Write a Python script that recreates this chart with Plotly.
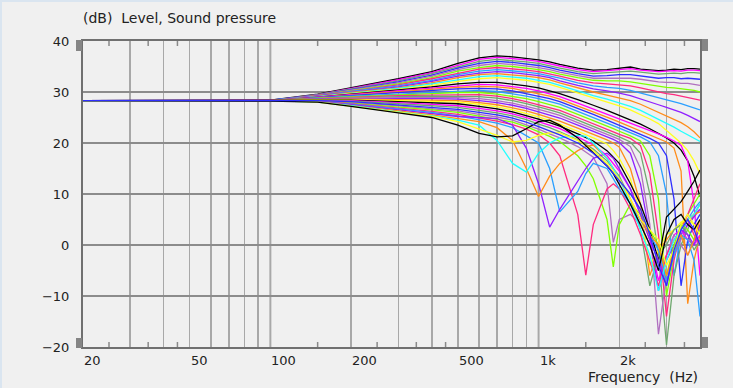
import math
import plotly.graph_objects as go

# ---------------- data ----------------
FREQ = [20, 100, 150, 200, 300, 400, 500, 600, 700, 800, 900, 1000, 1100, 1200, 1400, 1500,
        1600, 1800, 1900, 2000, 2200, 2400, 2600, 2800, 3000, 3200, 3400, 3600, 3800, 4000]

SPL_00 = [28.3, 28.4, 29.6, 30.8, 32.6, 34.0, 35.6, 36.7, 37.1, 36.9, 36.6, 36.3, 35.9, 35.4, 34.7, 34.5, 34.3, 34.4, 34.5, 34.6, 34.9, 34.5, 34.3, 34.2, 34.3, 34.5, 34.4, 34.6, 34.6, 34.5]
SPL_01 = [28.3, 28.3, 29.5, 30.7, 32.4, 33.8, 35.3, 36.4, 36.8, 36.6, 36.3, 36.0, 35.6, 35.1, 34.4, 34.2, 34.0, 34.2, 34.3, 34.4, 34.6, 34.3, 34.1, 34.0, 34.1, 34.2, 34.1, 34.3, 34.3, 34.2]
SPL_02 = [28.2, 28.3, 29.5, 30.6, 32.2, 33.6, 35.0, 36.0, 36.4, 36.2, 35.9, 35.6, 35.2, 34.7, 34.0, 33.8, 33.6, 33.8, 33.9, 34.0, 34.1, 33.9, 33.7, 33.5, 33.6, 33.7, 33.6, 33.8, 33.8, 33.7]
SPL_03 = [28.3, 28.4, 29.4, 30.5, 32.0, 33.3, 34.7, 35.6, 36.0, 35.8, 35.5, 35.2, 34.8, 34.3, 33.6, 33.3, 33.1, 33.2, 33.3, 33.4, 33.4, 33.2, 32.9, 32.7, 32.8, 32.8, 32.6, 32.7, 32.6, 32.5]
SPL_04 = [28.3, 28.2, 29.4, 30.4, 31.8, 33.1, 34.4, 35.2, 35.6, 35.4, 35.1, 34.8, 34.4, 33.9, 33.2, 32.9, 32.7, 32.7, 32.7, 32.8, 32.7, 32.5, 32.2, 32.0, 31.9, 31.9, 31.7, 31.7, 31.5, 31.3]
SPL_05 = [28.3, 28.3, 29.3, 30.3, 31.6, 32.8, 34.1, 34.8, 35.2, 35.0, 34.7, 34.4, 34.0, 33.5, 32.8, 32.5, 32.3, 32.2, 32.2, 32.2, 32.0, 31.7, 31.4, 31.1, 30.9, 30.8, 30.6, 30.5, 30.3, 30.0]
SPL_06 = [28.3, 28.3, 29.3, 30.2, 31.4, 32.6, 33.7, 34.5, 34.8, 34.6, 34.3, 34.0, 33.6, 33.1, 32.3, 32.0, 31.8, 31.6, 31.5, 31.5, 31.2, 30.8, 30.4, 30.0, 29.7, 29.5, 29.2, 29.0, 28.7, 28.4]
SPL_07 = [28.3, 28.4, 29.2, 30.1, 31.2, 32.3, 33.4, 34.1, 34.4, 34.2, 33.9, 33.6, 33.2, 32.7, 31.8, 31.5, 31.2, 30.9, 30.8, 30.7, 30.3, 29.8, 29.3, 28.8, 28.4, 28.1, 27.7, 27.3, 26.9, 26.5]
SPL_08 = [28.3, 28.3, 29.2, 30.0, 31.0, 32.1, 33.1, 33.7, 34.0, 33.8, 33.5, 33.2, 32.8, 32.2, 31.3, 30.9, 30.6, 30.2, 30.0, 29.8, 29.3, 28.7, 28.1, 27.5, 27.0, 26.5, 26.0, 25.4, 24.8, 24.2]
SPL_09 = [28.3, 28.3, 29.1, 29.9, 30.8, 31.8, 32.8, 33.4, 33.6, 33.4, 33.1, 32.8, 32.4, 31.8, 30.8, 30.4, 30.0, 29.4, 29.1, 28.9, 28.3, 27.6, 26.8, 26.1, 25.4, 24.7, 24.0, 23.2, 22.2, 21.0]
SPL_10 = [28.2, 28.3, 29.1, 29.8, 30.7, 31.6, 32.4, 33.0, 33.2, 33.0, 32.7, 32.3, 31.9, 31.3, 30.2, 29.7, 29.3, 28.6, 28.2, 27.9, 27.2, 26.4, 25.5, 24.7, 23.9, 23.1, 22.3, 21.6, 20.9, 20.3]
SPL_11 = [28.3, 28.3, 29.0, 29.7, 30.5, 31.3, 32.1, 32.6, 32.8, 32.6, 32.3, 31.9, 31.5, 30.9, 29.8, 29.3, 28.9, 28.1, 27.7, 27.3, 26.5, 25.6, 24.7, 23.8, 22.5, 21.3, 20.0, 18.5, 16.5, 14.0]
SPL_12 = [28.3, 28.3, 29.0, 29.6, 30.3, 31.0, 31.6, 31.9, 31.9, 31.6, 31.2, 30.8, 30.3, 29.7, 28.5, 28.0, 27.4, 26.4, 25.9, 25.5, 24.6, 23.7, 22.8, 21.9, 21.0, 20.0, 18.6, 16.5, 13.5, 9.5]
SPL_13 = [28.3, 28.3, 29.0, 29.5, 30.2, 30.8, 31.2, 31.5, 31.4, 31.1, 30.7, 30.2, 29.7, 29.1, 27.8, 27.2, 26.7, 25.7, 25.2, 24.8, 23.9, 23.1, 22.4, 21.8, 21.1, 20.4, 19.5, 16.5, 8.0, -6.0]
SPL_14 = [28.2, 28.3, 28.9, 29.4, 30.0, 30.5, 30.9, 31.1, 31.0, 30.7, 30.2, 29.7, 29.2, 28.6, 27.3, 26.7, 26.2, 25.1, 24.6, 24.1, 23.2, 22.3, 21.5, 20.8, 20.2, 19.0, 14.5, -11.5, -3.0, 2.0]
SPL_15 = [28.3, 28.3, 28.9, 29.3, 29.8, 30.2, 30.6, 30.7, 30.6, 30.2, 29.7, 29.2, 28.7, 28.1, 26.8, 26.2, 25.6, 24.5, 24.0, 23.5, 22.6, 21.7, 20.9, 20.0, 17.5, 9.0, -8.0, 1.0, 4.0, 6.0]
SPL_16 = [28.3, 28.3, 28.8, 29.2, 29.6, 29.9, 30.2, 30.3, 30.1, 29.7, 29.2, 28.7, 28.2, 27.6, 26.2, 25.6, 25.0, 23.9, 23.4, 22.9, 22.0, 21.2, 20.2, 17.5, 10.0, -6.0, 2.0, 5.0, 7.0, 8.5]
SPL_17 = [28.3, 28.3, 28.8, 29.1, 29.5, 29.7, 29.9, 29.9, 29.6, 29.2, 28.7, 28.1, 27.6, 27.0, 25.6, 25.0, 24.4, 23.3, 22.8, 22.3, 21.4, 20.4, 17.5, 9.0, -10.0, -2.0, 4.0, 6.0, 8.0, 10.0]
SPL_18 = [28.3, 28.4, 28.7, 29.0, 29.3, 29.4, 29.5, 29.5, 29.2, 28.7, 28.1, 27.5, 27.0, 26.4, 25.0, 24.4, 23.8, 22.7, 22.2, 21.7, 20.9, 19.5, 14.0, 2.0, -14.0, -3.0, 3.0, 6.0, 9.0, 12.0]
SPL_19 = [28.3, 28.3, 28.7, 28.9, 29.1, 29.2, 29.2, 29.1, 28.8, 28.3, 27.7, 27.1, 26.5, 25.9, 24.5, 23.9, 23.3, 22.2, 21.7, 21.2, 20.2, 18.0, 10.0, -2.0, -19.6, -6.0, 0.0, 3.0, 6.0, 8.0]
SPL_20 = [28.3, 28.3, 28.6, 28.8, 28.9, 28.9, 28.9, 28.7, 28.3, 27.8, 27.2, 26.6, 26.0, 25.4, 24.0, 23.4, 22.8, 21.7, 21.2, 20.7, 19.3, 15.0, 4.0, -17.5, -6.0, -2.0, 1.0, 4.0, 6.0, 7.0]
SPL_21 = [28.2, 28.3, 28.6, 28.7, 28.7, 28.7, 28.6, 28.3, 27.9, 27.4, 26.8, 26.1, 25.5, 24.9, 23.5, 22.9, 22.3, 21.2, 20.7, 20.1, 18.0, 12.0, 2.0, -9.0, -3.0, 0.0, 2.0, 4.0, 5.5, 7.0]
SPL_22 = [28.3, 28.3, 28.5, 28.6, 28.5, 28.4, 28.3, 27.9, 27.5, 26.9, 26.3, 25.6, 25.0, 24.3, 22.9, 22.3, 21.7, 20.6, 20.0, 19.2, 15.0, 8.0, -6.0, -1.0, 1.0, 3.0, 4.0, 5.0, 6.0, 6.5]
SPL_23 = [28.3, 28.3, 28.5, 28.5, 28.3, 28.2, 28.0, 27.6, 27.1, 26.5, 25.8, 25.1, 24.4, 23.7, 22.3, 21.7, 21.0, 19.8, 18.5, 17.0, 13.0, 6.0, -4.0, -1.0, 2.0, 3.0, 4.5, 5.0, 4.0, 3.0]
SPL_24 = [28.3, 28.3, 28.4, 28.4, 28.1, 27.9, 27.7, 27.2, 26.7, 26.1, 25.4, 24.7, 24.0, 23.3, 21.8, 21.1, 20.4, 18.5, 17.3, 16.0, 12.0, 8.0, 3.0, -3.0, 5.5, 7.0, 8.5, 10.5, 12.5, 14.7]
SPL_25 = [28.3, 28.3, 28.4, 28.3, 27.9, 27.6, 27.3, 26.8, 26.3, 25.7, 25.0, 24.2, 23.5, 22.8, 21.2, 20.4, 19.6, 17.5, 16.0, 14.5, 11.0, 6.0, 1.0, -7.0, -2.0, 2.0, 3.0, 1.0, 0.0, 2.0]
SPL_26 = [28.3, 28.3, 28.3, 28.2, 27.7, 27.3, 27.0, 26.4, 25.9, 25.3, 24.6, 23.7, 23.0, 22.2, 20.6, 19.7, 18.8, 16.5, 15.0, 13.5, 9.0, 3.0, -8.0, -2.0, 0.0, 3.0, 4.0, 2.0, -1.0, 1.0]
SPL_27 = [28.3, 28.3, 28.3, 28.1, 27.5, 27.0, 26.6, 26.0, 25.5, 24.9, 24.1, 23.2, 22.4, 21.6, 20.0, 19.0, 18.0, 15.5, 14.0, 12.5, 10.0, 7.0, 2.0, -4.0, -8.0, -1.0, 3.0, 5.0, 3.0, 0.0]
SPL_28 = [28.3, 28.3, 28.2, 27.9, 27.3, 26.7, 26.3, 25.6, 25.1, 24.5, 23.6, 22.7, 21.8, 21.0, 19.3, 18.2, 17.2, 12.0, 0.5, 5.0, 6.0, 4.0, 0.0, -5.0, -2.0, 2.0, 0.0, -2.0, 1.0, 4.0]
SPL_29 = [28.2, 28.3, 28.2, 27.8, 27.1, 26.5, 26.0, 25.3, 24.7, 24.1, 23.2, 22.2, 21.3, 20.3, 17.5, 15.5, 13.0, 5.0, -4.3, 4.0, 8.0, 6.0, 3.0, 0.0, -6.0, 0.0, 4.0, 3.0, 1.0, 3.0]
SPL_30 = [28.3, 28.3, 28.2, 27.7, 26.9, 26.2, 25.6, 24.9, 24.3, 23.6, 22.7, 21.6, 20.0, 17.5, 6.0, -5.9, 4.0, 11.0, 12.0, 11.0, 7.0, 2.0, -3.0, -8.0, -2.0, 1.0, 3.0, 5.0, 2.0, 0.0]
SPL_31 = [28.3, 28.3, 28.1, 27.6, 26.7, 26.0, 25.3, 24.6, 23.9, 23.0, 21.5, 20.0, 15.0, 6.5, 10.5, 14.0, 16.0, 15.0, 13.0, 11.0, 8.0, 5.0, 2.0, -1.0, -7.0, -2.0, 2.0, 1.0, -3.0, -14.0]
SPL_32 = [28.3, 28.3, 28.1, 27.5, 26.5, 25.7, 25.2, 25.0, 24.8, 23.5, 19.0, 12.0, 3.5, 7.0, 12.5, 15.0, 17.0, 18.0, 17.0, 15.0, 11.0, 6.0, 1.0, -3.0, -8.0, -1.0, 3.0, 2.0, 0.0, 4.0]
SPL_33 = [28.3, 28.3, 28.1, 27.4, 26.3, 25.5, 24.8, 24.2, 23.0, 20.5, 15.0, 9.5, 13.5, 16.0, 18.5, 19.3, 19.6, 17.0, 15.0, 13.0, 9.0, 5.0, 2.0, 0.0, -6.0, -1.0, 2.0, -2.0, 1.0, 5.0]
SPL_34 = [28.3, 28.3, 28.0, 27.3, 26.1, 25.3, 24.5, 23.5, 20.5, 16.0, 14.3, 18.0, 20.0, 21.0, 21.5, 21.3, 20.0, 17.0, 15.0, 13.0, 8.0, 3.0, -2.0, -9.0, -3.0, 1.0, 3.0, 5.0, 6.0, 8.0]
SPL_35 = [28.3, 28.3, 28.0, 27.2, 26.0, 25.2, 24.2, 22.8, 21.5, 20.2, 20.5, 21.5, 22.0, 22.0, 20.5, 19.5, 18.5, 16.0, 14.5, 13.0, 9.0, 5.0, 3.0, 1.0, -4.0, -1.0, 4.0, 6.0, 4.0, 2.0]
SPL_36 = [28.3, 28.2, 28.0, 27.2, 25.9, 25.0, 23.5, 21.9, 21.2, 21.4, 22.8, 24.2, 24.5, 23.5, 21.0, 19.5, 18.0, 15.5, 14.0, 12.0, 8.0, 4.0, 0.0, -5.0, 2.0, 5.0, 6.0, 4.0, 3.0, 5.0]

CURVES = [SPL_00, SPL_01, SPL_02, SPL_03, SPL_04, SPL_05, SPL_06, SPL_07, SPL_08, SPL_09,
          SPL_10, SPL_11, SPL_12, SPL_13, SPL_14, SPL_15, SPL_16, SPL_17, SPL_18, SPL_19,
          SPL_20, SPL_21, SPL_22, SPL_23, SPL_24, SPL_25, SPL_26, SPL_27, SPL_28, SPL_29,
          SPL_30, SPL_31, SPL_32, SPL_33, SPL_34, SPL_35, SPL_36]

# ---------------- styles ----------------
BLACK, MAGENTA, GREYGREEN, BLUE = "#000000", "#ff00ff", "#6fa86f", "#2f2fff"
MAUVE, LIME, PINK, LIGHTBLUE = "#b070c0", "#80ff00", "#ff2a7f", "#2a9fff"
PURPLE, ORANGE, CYAN, YELLOW = "#9020ff", "#ff8c1a", "#20ffff", "#ffff20"
COLORS = [BLACK, MAGENTA, GREYGREEN, BLUE, MAUVE, LIME, PINK, LIGHTBLUE, PURPLE, ORANGE, CYAN, YELLOW,
          BLACK, MAGENTA, ORANGE, BLUE, LIGHTBLUE, LIME, PINK, GREYGREEN, MAUVE, PURPLE, ORANGE, YELLOW,
          BLACK, MAGENTA, GREYGREEN, BLUE, MAUVE, LIME, PINK, LIGHTBLUE, PURPLE, ORANGE, CYAN, YELLOW,
          BLACK]

X_LABEL_VALUES = [20, 50, 100, 200, 500, 1000, 2000]
X_LABEL_TEXT = ["20", "50", "100", "200", "500", "1k", "2k"]
X_GRID = [30, 40, 50, 60, 70, 80, 90, 100, 200, 300, 400, 500, 600, 700, 800, 900, 1000, 2000, 3000]
X_DECADES = [100, 1000]
X_MINOR = [25, 35, 45, 150, 250, 350, 450, 1500, 2500, 3500]
Y_TICKS = [-20, -10, 0, 10, 20, 30, 40]

# ---------------- layout geometry (pixels) ----------------
W, H = 733, 388
L, R, T, B = 83, 700, 41, 347


def pxx(px):
    return (px - L) / (R - L)


def pxy(py):
    return (B - py) / (B - T)


FONT = "DejaVu Sans, Verdana, sans-serif"
TXT = "#222222"

fig = go.Figure()

order = [i for i in range(len(CURVES)) if i != 27] + [27]
for i in order:
    fig.add_trace(go.Scatter(
        x=FREQ, y=CURVES[i], mode="lines",
        line=dict(color=COLORS[i], width=1.3),
        hoverinfo="skip", showlegend=False))

shapes = []
for f in X_DECADES:
    shapes.append(dict(type="line", xref="x", yref="paper", x0=f, x1=f, y0=0, y1=1,
                       line=dict(color="#7c7c7c", width=1.6), layer="below"))
for f in X_MINOR:
    shapes.append(dict(type="line", xref="x", yref="paper", x0=f, x1=f, y0=0, y1=pxy(B - 5),
                       line=dict(color="#8a8a8a", width=1.5)))
    shapes.append(dict(type="line", xref="x", yref="paper", x0=f, x1=f, y0=pxy(T + 5), y1=1,
                       line=dict(color="#8a8a8a", width=1.5)))
shapes.append(dict(type="rect", xref="paper", yref="paper", x0=pxx(0), x1=pxx(W), y0=pxy(2), y1=pxy(0),
                   fillcolor="#dae5f0", line=dict(width=0), layer="below"))
shapes.append(dict(type="rect", xref="paper", yref="paper", x0=pxx(0), x1=pxx(2), y0=pxy(H), y1=pxy(0),
                   fillcolor="#dae5f0", line=dict(width=0), layer="below"))
for (x0, x1, y0, y1) in [(76, 82, 40, 51), (76, 82, 338, 348), (702, 708, 39, 51), (702, 708, 337, 348)]:
    shapes.append(dict(type="rect", xref="paper", yref="paper", x0=pxx(x0), x1=pxx(x1),
                       y0=pxy(y1), y1=pxy(y0), fillcolor="#858585", line=dict(width=0)))

annotations = []
for v, t in zip(X_LABEL_VALUES, X_LABEL_TEXT):
    annotations.append(dict(x=math.log10(v), xref="x", y=pxy(360), yref="paper", text=t,
                            showarrow=False, xanchor="left", yanchor="middle",
                            font=dict(family=FONT, size=13, color=TXT), xshift=-1))
annotations.append(dict(x=pxx(700), xref="paper", y=pxy(377), yref="paper",
                        text="Frequency\u00a0\u00a0(Hz)", showarrow=False, xanchor="right", yanchor="middle",
                        font=dict(family=FONT, size=14, color=TXT)))
annotations.append(dict(x=pxx(83), xref="paper", y=pxy(18), yref="paper",
                        text="(dB)\u00a0\u00a0Level, Sound pressure", showarrow=False, xanchor="left",
                        yanchor="middle", font=dict(family=FONT, size=14, color=TXT), xshift=-2))

fig.update_layout(
    width=W, height=H,
    margin=dict(l=L, r=W - R, t=T, b=H - B, pad=0),
    paper_bgcolor="#f0f0f0", plot_bgcolor="#f0f0f0",
    showlegend=False,
    shapes=shapes, annotations=annotations,
    xaxis=dict(type="log", range=[math.log10(20), math.log10(4000)], automargin=False,
               tickvals=X_GRID, showticklabels=False, ticks="",
               showgrid=True, gridcolor="#a8a8a8", gridwidth=1.5, zeroline=False,
               showline=True, mirror=True, linecolor="#707070", linewidth=2),
    yaxis=dict(range=[-20, 40], tickvals=Y_TICKS, ticks="outside", ticklen=9, automargin=False,
               tickcolor="rgba(0,0,0,0)",
               tickfont=dict(family=FONT, size=13, color=TXT),
               showgrid=True, gridcolor="#8c8c8c", gridwidth=1.6, zeroline=False,
               showline=True, mirror=True, linecolor="#707070", linewidth=2),
)

fig.write_html("out.html", config={"displayModeBar": False, "staticPlot": True},
               post_script="document.body.style.margin='0';document.body.style.overflow='hidden';")
